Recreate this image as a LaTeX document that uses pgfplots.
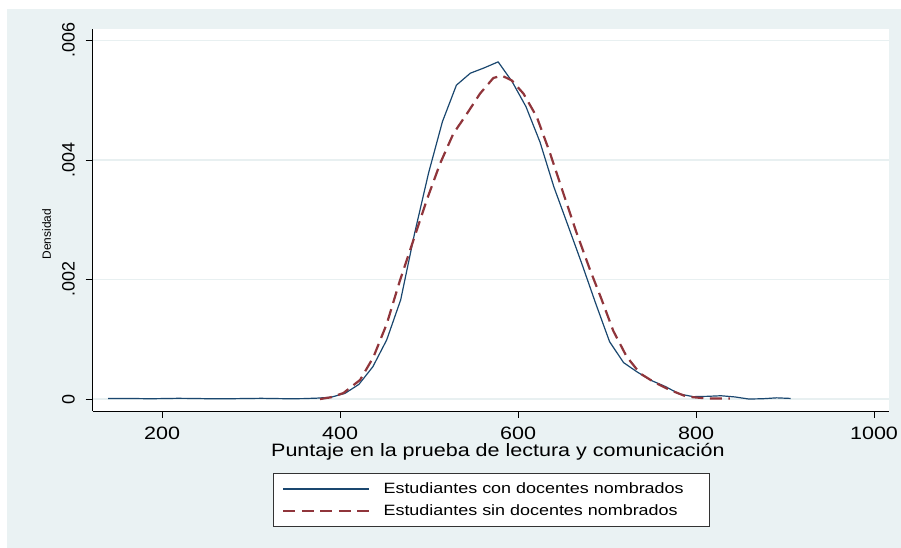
\documentclass[border=0pt]{standalone}
\usepackage{fontspec}
\setmainfont{Liberation Sans}
\newfontfamily\wide{Liberation Sans}[FakeStretch=1.2]
\usepackage{pgfplots}
\pgfplotsset{compat=1.18}
\definecolor{stbg}{RGB}{234,242,243}
\definecolor{stgrid}{RGB}{232,240,241}
\definecolor{stnavy}{RGB}{26,71,111}
\definecolor{stmaroon}{RGB}{144,53,59}

% kernel density, students with appointed teachers
\pgfplotstableread{
x y
139.4 0.00001
155.1 0.00001
170.7 0.000008
186.4 0.000005
202.0 0.000008
217.7 0.000012
233.3 0.00001
249.0 0.000006
264.6 0.000004
280.3 0.000006
295.9 0.000009
311.6 0.000012
327.2 0.000008
342.9 0.000005
358.5 0.000007
374.2 0.000015
389.8 0.00003
405.5 0.000095
421.1 0.000245
436.8 0.00054
452.4 0.00099
468.1 0.00166
483.7 0.00277
499.4 0.00378
515.0 0.00464
530.7 0.00525
546.3 0.00545
562.0 0.00554
577.6 0.00564
593.3 0.00531
608.9 0.00489
624.6 0.00430
640.2 0.00355
655.9 0.00291
671.5 0.00227
687.2 0.00160
702.8 0.00096
718.5 0.00061
734.1 0.00045
749.8 0.00031
765.4 0.00021
781.1 0.000085
796.7 0.00004
812.4 0.000045
828.0 0.000055
843.7 0.000035
859.3 0.0
875.0 0.000005
890.6 0.00002
906.3 0.00001
}\con

% students without appointed teachers
\pgfplotstableread{
x y
377.5 0.0
390.0 0.00003
403.7 0.0001
422.5 0.00032
437.4 0.0007
452.5 0.00126
467.4 0.00199
482.4 0.00266
497.4 0.00333
512.4 0.00394
527.3 0.00444
542.4 0.00477
557.3 0.00511
572.2 0.00537
581.7 0.00541
592.9 0.00533
606.0 0.00511
621.0 0.00472
636.0 0.00411
650.9 0.00344
666.0 0.00277
680.9 0.00216
693.0 0.00170
707.0 0.00114
722.0 0.00071
737.0 0.00043
752.0 0.00029
770.8 0.00015
789.5 0.00004
812.0 0.00001
838.0 0.00001
}\sin

\begin{document}
\begin{tikzpicture}[x=1bp,y=1bp]
\path[use as bounding box, fill=white] (0,0) rectangle (901,548);
\fill[stbg] (7,0) rectangle (901,539);
\begin{axis}[
  at={(92.7bp,137bp)}, anchor=south west,
  width=796bp, height=382bp, scale only axis,
  xmin=122, xmax=1016.5, ymin=-0.0002, ymax=0.00619,
  axis lines*=left,
  axis line style={black, line width=0.8bp, -},
  axis background/.style={fill=white},
  xtick={200,400,600,800,1000}, xticklabels={200,400,600,800,1000},
  ytick={0,0.002,0.004,0.006}, yticklabels={0,.002,.004,.006},
  scaled ticks=false,
  tick align=outside, major tick length=7bp,
  tick style={black, line width=0.8bp},
  ymajorgrids, y grid style={stgrid, line width=1.5bp},
  xticklabel style={font=\wide\fontsize{18}{18}\selectfont, inner sep=0pt, anchor=base, yshift=-22bp},
  yticklabel style={font=\fontsize{18}{18}\selectfont, inner sep=0pt, anchor=base, xshift=-11bp, rotate=90},
  xlabel={Puntaje en la prueba de lectura y comunicación},
  xlabel style={font=\wide\fontsize{18}{18}\selectfont, inner sep=0pt, anchor=base,
    at={(axis description cs:0.509,0)}, yshift=-46bp},
  ylabel={Densidad},
  ylabel style={font=\fontsize{12}{12}\selectfont, inner sep=0pt, anchor=base,
    at={(axis description cs:-0.0525,0.463)}},
  legend style={at={(axis description cs:0.2261,-0.1615)}, anchor=north west,
    draw=black!80, line width=0.8bp, fill=white,
    inner xsep=9.3bp, inner ysep=9.8bp, row sep=9.5bp, column sep=13bp,
    font=\wide\fontsize{15}{15}\selectfont,
    nodes={inner sep=0pt}, cells={anchor=west}},
  legend image code/.code={\draw[#1] (0bp,0bp) -- (86bp,0bp);},
]
\addplot[stnavy, line width=1.2bp, line join=round] table[x=x,y=y] {\con};
\addlegendentry{\makebox[317bp][l]{Estudiantes con docentes nombrados}}
\addplot[stmaroon, line width=2.2bp, dash pattern=on 12bp off 6.5bp, line join=round] table[x=x,y=y] {\sin};
\addlegendentry{\makebox[317bp][l]{Estudiantes sin docentes nombrados}}
\end{axis}
\end{tikzpicture}
\end{document}
